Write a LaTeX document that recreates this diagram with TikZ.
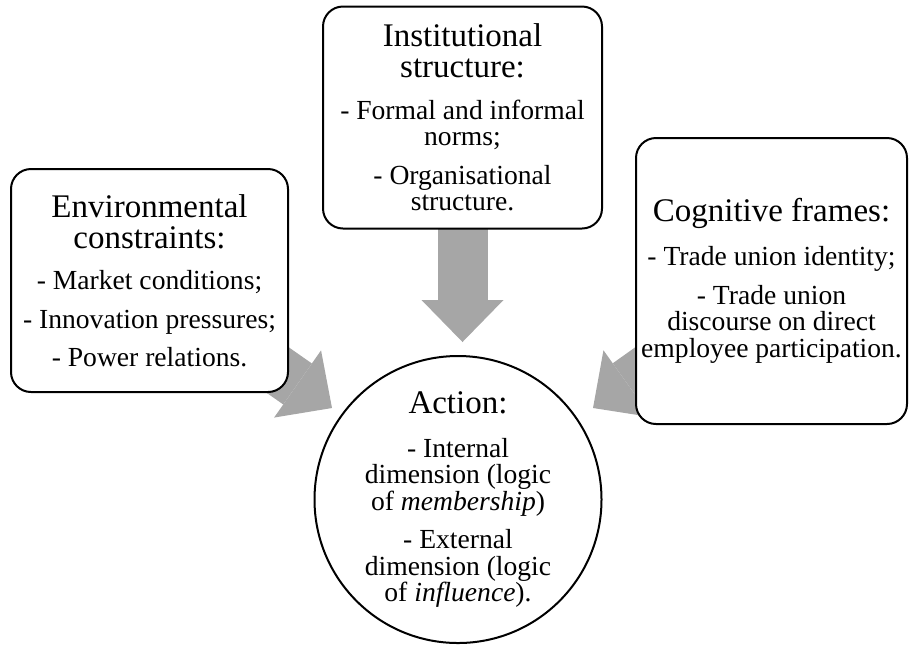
\documentclass[tikz,border=0pt]{standalone}
\usepackage{fontspec}
\setmainfont{Liberation Serif}
\usetikzlibrary{arrows.meta,backgrounds}

\definecolor{arrowgray}{RGB}{166,166,166}
\newcommand{\ttl}{\fontsize{16.5}{13.3}\selectfont}

\tikzset{
  factor/.style={draw, line width=1pt, rounded corners=10pt, fill=white,
    align=center, inner sep=0pt, font=\fontsize{13.8}{13.3}\selectfont},
  action/.style={draw, circle, line width=1pt, fill=white, align=center,
    inner sep=0pt, minimum size=143.5pt, font=\fontsize{13.8}{13.3}\selectfont},
  bigarrow/.style={arrowgray, line width=25pt,
    -{Triangle[length=21pt, width=41pt, line width'=0pt]}}
}

\begin{document}
\begin{tikzpicture}[x=0.5pt, y=-0.5pt]
            \useasboundingbox (0,0) rectangle (909,645);
            % the three factors
            \node[factor, minimum width=138.5pt, minimum height=111.5pt] (env) at (149.5,280.5)
                {{\ttl Environmental}\\[2.2pt]{\ttl constraints:}\\[7.5pt]- Market conditions;\\[5.9pt]- Innovation pressures;\\[5.9pt]- Power relations.};
            \node[factor, minimum width=139.5pt, minimum height=111pt] (inst) at (462.5,117.5)
                {{\ttl Institutional}\\[2.2pt]{\ttl structure:}\\[7.5pt]- Formal and informal\\norms;\\[5.9pt]- Organisational\\structure.};
            \node[factor, minimum width=135.5pt, minimum height=143pt] (cog) at (771.5,281)
                {{\ttl Cognitive frames:}\\[8.7pt]- Trade union identity;\\[5.9pt]- Trade union\\discourse on direct\\employee participation.};
            % action in the middle
            \node[action] (act) at (458,499.5)
                {{\ttl Action:}\\[8.7pt]- Internal\\dimension (logic\\of \textit{membership})\\[5.9pt]- External\\dimension (logic\\of \textit{influence}).};
            \coordinate (envtip) at (332,408);
            \coordinate (insttip) at (462.5,342);
            \coordinate (cogtip) at (593,408);
            \begin{scope}[on background layer]
                \draw[bigarrow] (env.center) -- (envtip);
                \draw[bigarrow] (inst.center) -- (insttip);
                \draw[bigarrow] (cog.center) -- (cogtip);
            \end{scope}
        \end{tikzpicture}
\end{document}
